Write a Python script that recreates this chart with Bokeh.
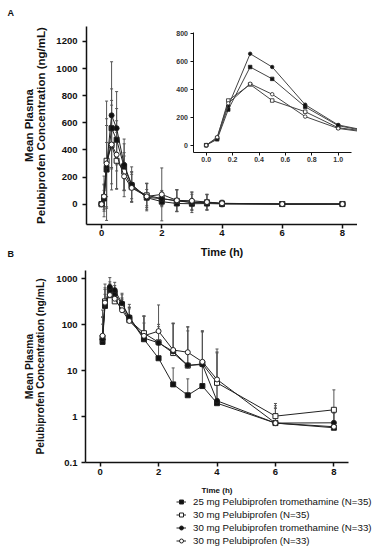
from bokeh.plotting import figure
from bokeh.layouts import column
from bokeh.models import (ColumnDataSource, Whisker, TeeHead, Range1d, LinearAxis, LogAxis,
                          FixedTicker, NumeralTickFormatter, CustomJSTickFormatter, Legend,
                          LegendItem, Label)
from bokeh.embed import file_html
from bokeh.resources import INLINE
import math

# ---------------- data ----------------
time_h = [0, 0.083, 0.167, 0.333, 0.5, 0.75, 1, 1.5, 2, 2.5, 3, 3.5, 4, 6, 8]

series_names = [
    "25 mg Pelubiprofen tromethamine (N=35)",
    "30 mg Pelubiprofen (N=35)",
    "30 mg Pelubiprofen tromethamine (N=33)",
    "30 mg Pelubiprofen (N=33)",
]

mean_trom25_n35 = [0, 42, 255, 560, 475, 275, 140, 48, 18.5, 5.0, 2.9, 4.6, 1.95, 0.72, 0.57]
mean_pelu30_n35 = [0, 52, 320, 435, 320, 240, 125, 65, 41, 24, 12.8, 14, 5.4, 1.02, 1.4]
mean_trom30_n33 = [0, 48, 280, 655, 560, 290, 145, 51, 40, 26, 13, 13.5, 2.2, 0.72, 0.73]
mean_pelu30_n33 = [0, 57, 300, 440, 365, 205, 120, 57, 72, 28, 25, 15.5, 6.4, 0.72, 0.6]

sd_trom25_n35 = [0, 60, 200, 290, 230, 170, 100, 60, 25, 6.4, 3.7, 8, 3, 0.8, 0.6]
sd_pelu30_n35 = [0, 90, 440, 330, 210, 140, 110, 90, 60, 80, 60, 55, 20, 0.9, 2.4]
sd_trom30_n33 = [0, 100, 300, 395, 270, 190, 130, 100, 50, 80, 75, 58, 22, 0.8, 0.7]
sd_pelu30_n33 = [0, 150, 330, 290, 250, 150, 100, 95, 195, 80, 65, 58, 23, 1.0, 0.8]

series_means = [mean_trom25_n35, mean_pelu30_n35, mean_trom30_n33, mean_pelu30_n33]
series_sds = [sd_trom25_n35, sd_pelu30_n35, sd_trom30_n33, sd_pelu30_n33]
series_markers = ["square", "square", "circle", "circle"]
series_fills = ["#111111", "white", "#111111", "white"]

xticks = [0, 2, 4, 6, 8]
yticks_lin = [0, 200, 400, 600, 800, 1000, 1200]
inset_xticks = [0, 0.2, 0.4, 0.6, 0.8, 1.0]
inset_yticks = [0, 200, 400, 600, 800]
yticks_log = [0.1, 1, 10, 100, 1000]

FONT = "Liberation Sans"
LINE_C = "#222222"
BAR_C = "#555555"


def span_range(d0, d1, p0, p1, size):
    """Range whose value d0 sits at pixel p0 and d1 at pixel p1 (pixels counted
    from the left / bottom of a frame that is `size` pixels long)."""
    scale = (p1 - p0) / (d1 - d0)
    start = d0 - p0 / scale
    return start, start + size / scale


def style_axis(ax, label_size, tick_size="9.5px"):
    ax.axis_line_width = 1.5
    ax.axis_line_color = "#111111"
    ax.major_tick_line_width = 1.5
    ax.major_tick_line_color = "#111111"
    ax.major_tick_out = 4
    ax.major_tick_in = 0
    ax.minor_tick_line_color = None
    ax.major_label_text_font = FONT
    ax.major_label_text_font_size = tick_size
    ax.major_label_text_font_style = "bold"
    ax.major_label_text_color = "#111111"
    ax.axis_label_text_font = FONT
    ax.axis_label_text_font_size = label_size
    ax.axis_label_text_font_style = "bold"
    ax.axis_label_text_color = "#111111"


def bare_figure(w, h, xr, yr, **kw):
    p = figure(width=w, height=h, x_range=Range1d(*xr), y_range=Range1d(*yr),
               x_axis_location=None, y_axis_location=None,
               output_backend="svg", toolbar_location=None,
               min_border_left=0, min_border_right=0, min_border_top=0, min_border_bottom=0,
               **kw)
    p.outline_line_color = None
    p.grid.visible = False
    return p


# ---------------- panel A ----------------
WA, HA = 357, 262
A_X = (-0.5, 8.5)
A_Y = (-150, 1310)
pA = bare_figure(WA, HA,
                 span_range(A_X[0], A_X[1], 86, 357, WA),
                 span_range(A_Y[0], A_Y[1], HA - 224, HA - 26, HA))

ax_a = LinearAxis(fixed_location=A_Y[0], bounds=A_X, ticker=FixedTicker(ticks=xticks),
                  axis_label="Time (h)")
ay_a = LinearAxis(fixed_location=A_X[0], bounds=A_Y, ticker=FixedTicker(ticks=yticks_lin),
                  axis_label="Mean Plasma\nPelubiprofen Concentration (ng/mL)")
style_axis(ax_a, "11px")
style_axis(ay_a, "11.5px")
ax_a.major_label_standoff = 1
ax_a.axis_label_standoff = 7
ay_a.major_label_standoff = 5
ay_a.axis_label_standoff = 6
ay_a.axis_label_text_line_height = 1.0
pA.add_layout(ax_a, "below")
pA.add_layout(ay_a, "left")

for m, s, mk, fc in zip(series_means, series_sds, series_markers, series_fills):
    src = ColumnDataSource(dict(t=time_h, m=m,
                                lo=[a - b for a, b in zip(m, s)],
                                hi=[a + b for a, b in zip(m, s)]))
    pA.add_layout(Whisker(source=src, base="t", upper="hi", lower="lo",
                          line_color=BAR_C, line_width=1,
                          upper_head=TeeHead(size=3, line_color=BAR_C, line_width=1),
                          lower_head=TeeHead(size=3, line_color=BAR_C, line_width=1)))
    pA.line("t", "m", source=src, line_color=LINE_C, line_width=1)
    pA.scatter("t", "m", source=src, marker=mk, size=5, fill_color=fc,
               line_color=LINE_C, line_width=1)

# inset (own ranges inside panel A)
I_X = (-0.1, 1.1)
I_Y = (-50, 810)
pA.extra_x_ranges = {"ix": Range1d(*span_range(0.0, 1.0, 205.7, 337.7, WA))}
pA.extra_y_ranges = {"iy": Range1d(*span_range(0, 800, HA - 144.7, HA - 33.0, HA))}
n_in = 8  # time points up to 1.5 h (clipped at the panel edge)
for m, mk, fc in zip(series_means, series_markers, series_fills):
    src = ColumnDataSource(dict(t=time_h[:n_in], m=m[:n_in]))
    pA.line("t", "m", source=src, x_range_name="ix", y_range_name="iy",
            line_color="#444444", line_width=1)
    pA.scatter("t", "m", source=src, x_range_name="ix", y_range_name="iy",
               marker=mk, size=3.5, fill_color=fc, line_color="#222222", line_width=0.8)

ix_axis = LinearAxis(x_range_name="ix", y_range_name="iy", fixed_location=I_Y[0],
                     bounds=I_X, ticker=FixedTicker(ticks=inset_xticks),
                     formatter=NumeralTickFormatter(format="0.0"))
iy_axis = LinearAxis(x_range_name="ix", y_range_name="iy", fixed_location=I_X[0],
                     bounds=I_Y, ticker=FixedTicker(ticks=inset_yticks))
for ax in (ix_axis, iy_axis):
    style_axis(ax, "8px", tick_size="7px")
    ax.axis_line_width = 1
    ax.major_tick_line_width = 1
    ax.major_tick_out = 3
    ax.major_label_standoff = 2
    ax.major_label_text_color = "#333333"
pA.add_layout(ix_axis, "below")
pA.add_layout(iy_axis, "left")

pA.add_layout(Label(x=7, y=HA - 12, x_units="screen", y_units="screen", text="A",
                    text_font=FONT, text_font_size="9px", text_font_style="bold",
                    text_baseline="middle", text_align="left", text_color="#111111"))
pA.add_layout(Label(x=7, y=HA - 253.5, x_units="screen", y_units="screen", text="B",
                    text_font=FONT, text_font_size="9px", text_font_style="bold",
                    text_baseline="middle", text_align="left", text_color="#111111"))

# ---------------- panel B ----------------
WB, HB = 384, 288
B_X = (-0.5, 8.5)
B_Y = (0.1, 1500)
ly0, ly1 = span_range(math.log10(B_Y[0]), math.log10(B_Y[1]), HB - 200, HB - 8, HB)
pB = bare_figure(WB, HB, span_range(B_X[0], B_X[1], 85, 348, WB),
                 (10 ** ly0, 10 ** ly1), y_axis_type="log")

ax_b = LinearAxis(fixed_location=B_Y[0], bounds=B_X, ticker=FixedTicker(ticks=xticks),
                  axis_label="Time (h)")
ay_b = LogAxis(fixed_location=B_X[0], bounds=B_Y, ticker=FixedTicker(ticks=yticks_log),
               formatter=CustomJSTickFormatter(code="return String(tick)"),
               axis_label="Mean Plasma\nPelubiprofen Concentration (ng/mL)")
style_axis(ax_b, "8px")
style_axis(ay_b, "10.3px")
ax_b.major_label_standoff = 2
ax_b.axis_label_standoff = 8
ay_b.major_label_standoff = 4
ay_b.axis_label_standoff = 7
ay_b.axis_label_text_line_height = 1.0
pB.add_layout(ax_b, "below")
pB.add_layout(ay_b, "left")

items = []
for name, m, s, mk, fc in zip(series_names, series_means, series_sds, series_markers, series_fills):
    src = ColumnDataSource(dict(t=time_h[1:], m=m[1:],
                                hi=[a + b for a, b in zip(m[1:], s[1:])]))
    pB.add_layout(Whisker(source=src, base="t", upper="hi", lower="m",
                          line_color=BAR_C, line_width=1,
                          upper_head=TeeHead(size=3, line_color=BAR_C, line_width=1),
                          lower_head=None))
    lr = pB.line("t", "m", source=src, line_color=LINE_C, line_width=1)
    sr = pB.scatter("t", "m", source=src, marker=mk, size=5, fill_color=fc,
                    line_color=LINE_C, line_width=1)
    items.append(LegendItem(label=name, renderers=[lr, sr]))

legend = Legend(items=items, location=(176, 3), orientation="vertical",
                glyph_width=10, glyph_height=13, label_height=13, label_standoff=7,
                spacing=0, padding=0, margin=0, border_line_color=None,
                background_fill_alpha=0, label_text_font=FONT,
                label_text_font_size="9.7px", label_text_color="#111111")
pB.add_layout(legend)

layout = column(column(pA), column(pB), spacing=0)
open("out.html", "w").write(file_html(layout, INLINE))
